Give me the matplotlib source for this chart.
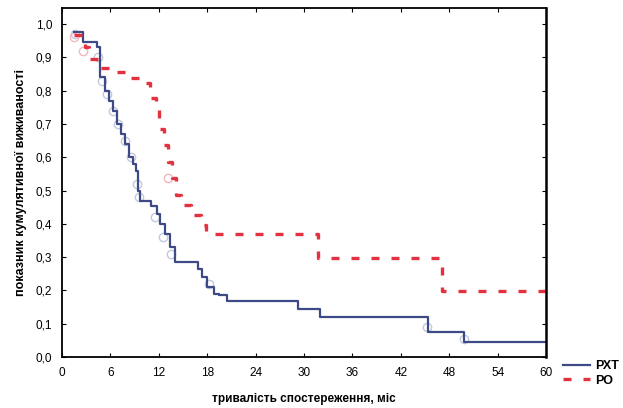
import matplotlib
matplotlib.use('Agg')
import matplotlib.pyplot as plt
from matplotlib.ticker import FuncFormatter

plt.rcParams['font.family'] = ['Liberation Sans', 'DejaVu Sans']

# РХТ - крива виживаності (Kaplan-Meier)
pxt_t = [1.5, 2.6, 4.3, 4.7, 5.3, 5.8, 6.3, 6.8, 7.3, 7.8, 8.3, 8.8, 9.2, 9.4, 9.7,
         11.0, 11.8, 12.2, 12.8, 13.4, 14.0, 16.8, 17.4, 18.0, 18.8, 19.4, 20.4,
         29.2, 32.0, 45.4, 49.8, 60]
pxt_s = [0.975, 0.946, 0.93, 0.84, 0.80, 0.77, 0.74, 0.70, 0.67, 0.64, 0.60, 0.58,
         0.56, 0.50, 0.47, 0.455, 0.43, 0.40, 0.37, 0.33, 0.285, 0.265, 0.24, 0.21,
         0.19, 0.185, 0.168, 0.145, 0.121, 0.074, 0.045, 0.045]

# РО
ro_t = [1.5, 2.9, 3.3, 4.7, 5.8, 8.0, 9.9, 10.9, 11.6, 12.0, 12.6, 13.1, 13.6,
        14.1, 14.7, 16.0, 17.2, 17.9, 31.7, 47.1, 60]
ro_s = [0.967, 0.93, 0.895, 0.868, 0.856, 0.837, 0.823, 0.777, 0.745, 0.685,
        0.636, 0.587, 0.537, 0.486, 0.456, 0.426, 0.396, 0.37, 0.298, 0.198, 0.198]

# цензуровані спостереження
pxt_cens_t = [1.6, 4.5, 5.0, 5.6, 6.3, 7.0, 7.8, 8.5, 9.3, 9.6, 11.5, 12.5, 13.5, 18.2, 45.3, 49.8]
pxt_cens_s = [0.97, 0.90, 0.83, 0.79, 0.74, 0.70, 0.65, 0.60, 0.52, 0.48, 0.42, 0.36, 0.31, 0.22, 0.09, 0.055]
ro_cens_t = [1.5, 2.6, 13.1]
ro_cens_s = [0.96, 0.92, 0.537]

xticks = list(range(0, 61, 6))
yticks = [i / 10 for i in range(11)]

fig = plt.figure(figsize=(6.23, 4.08), dpi=100)
ax = fig.add_axes([0.0995, 0.125, 0.777, 0.855])

ax.plot(pxt_cens_t, pxt_cens_s, 'o', ms=6, mfc='none', mec='#c4c8de', mew=1)
ax.plot(ro_cens_t, ro_cens_s, 'o', ms=6, mfc='none', mec='#f2b8be', mew=1)

ax.plot(pxt_t, pxt_s, drawstyle='steps-post', color='#3e4a86', lw=1.6, label='РХТ')
ax.plot(ro_t, ro_s, drawstyle='steps-post', color='#e23240', lw=2.4,
        dashes=(2.4, 3.6), label='РО')

ax.set_xlim(0, 60)
ax.set_ylim(0, 1.048)
ax.set_xticks(xticks)
ax.set_yticks(yticks)
ax.yaxis.set_major_formatter(FuncFormatter(lambda v, p: f'{v:.1f}'.replace('.', ',')))
ax.tick_params(direction='in', length=3, labelsize=8.5, top=True, right=True,
               labeltop=False, labelright=False)
ax.tick_params(axis='x', pad=7)
ax.tick_params(axis='y', pad=7)
for s in ax.spines.values():
    s.set_linewidth(1.3)
ax.spines['right'].set_linewidth(1.8)

ax.set_xlabel('тривалість спостереження, міс', fontsize=8.5, fontweight='bold', labelpad=10)
ax.set_ylabel('показник кумулятивної виживаності', fontsize=9, fontweight='bold', labelpad=6)

handles, labels = ax.get_legend_handles_labels()
fig.legend(handles[-2:], labels[-2:], loc='upper left', bbox_to_anchor=(0.885, 0.145),
           frameon=False, prop={'size': 9, 'weight': 'bold'}, handlelength=2.2,
           handletextpad=0.4, labelspacing=0.2)

fig.savefig('out.png', dpi=100)
